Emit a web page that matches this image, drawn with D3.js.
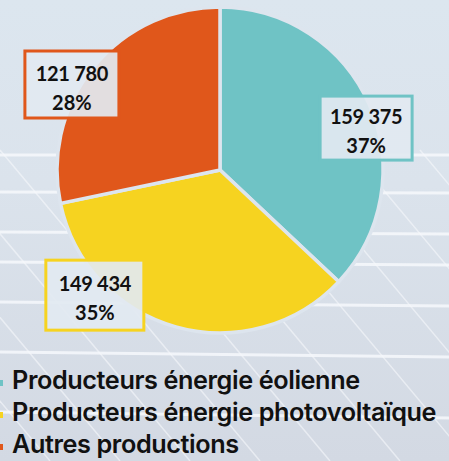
<!DOCTYPE html>
<html>
<head>
<meta charset="utf-8">
<script src="https://cdn.jsdelivr.net/npm/d3@7"></script>
<style>
  html, body { margin: 0; padding: 0; background: #dfe6ee; }
  svg { display: block; }
</style>
</head>
<body>
<svg width="449" height="461"></svg>
<script>
const categories = ["Producteurs énergie éolienne", "Producteurs énergie photovoltaïque", "Autres productions"];
const values = [159375, 149434, 121780];
const valueLabels = ["159 375", "149 434", "121 780"];
const percentLabels = ["37%", "35%", "28%"];
const colors = ["#6fc3c5", "#f6d320", "#e0571b"];

const svg = d3.select("svg");
const width = +svg.attr("width");
const height = +svg.attr("height");

// background: pale sky fading into a solar panel grid
const defs = svg.append("defs");
const grad = defs.append("linearGradient").attr("id", "bg").attr("x1", 0).attr("y1", 0).attr("x2", 0).attr("y2", 1);
grad.append("stop").attr("offset", "0%").attr("stop-color", "#dce6ef");
grad.append("stop").attr("offset", "40%").attr("stop-color", "#dbe3ec");
grad.append("stop").attr("offset", "100%").attr("stop-color", "#d3d9e3");
svg.append("rect").attr("width", width).attr("height", height).attr("fill", "url(#bg)");

const panel = svg.append("g").attr("stroke", "#f6f8fb").attr("fill", "none");
[155, 192, 232, 262, 302, 352, 412].forEach((y, i) => {
  panel.append("line").attr("x1", 0).attr("x2", width).attr("y1", y).attr("y2", y + i)
    .attr("stroke-width", 3).attr("opacity", 0.85);
});
for (let k = -6; k < 10; k++) {
  const x0 = k * 70;
  panel.append("line").attr("x1", x0).attr("y1", 150).attr("x2", x0 + 260).attr("y2", height)
    .attr("stroke-width", 1.5).attr("opacity", 0.6);
}

// pie
const cx = 220, cy = 170, radius = 163;
const g = svg.append("g").attr("transform", `translate(${cx},${cy})`);

const pie = d3.pie().value(d => d).sort(null);
const arc = d3.arc().innerRadius(0).outerRadius(radius);
const arcs = pie(values);

g.selectAll("path.slice")
  .data(arcs)
  .enter()
  .append("path")
  .attr("class", "slice")
  .attr("d", arc)
  .attr("fill", (d, i) => colors[i])
  .attr("stroke", "#dde5ee")
  .attr("stroke-width", 3.5);

// data labels (box placement around each slice)
const labelAngles = [74, 225, 300];
const labelRadii = [152, 177, 171];
const boxSizes = [[92, 64], [98, 70], [94, 67]];

const labels = g.selectAll("g.label")
  .data(arcs)
  .enter()
  .append("g")
  .attr("class", "label")
  .attr("transform", (d, i) => {
    const a = labelAngles[i] * Math.PI / 180;
    return `translate(${labelRadii[i] * Math.sin(a)},${-labelRadii[i] * Math.cos(a)})`;
  });

labels.append("rect")
  .attr("x", (d, i) => -boxSizes[i][0] / 2)
  .attr("y", (d, i) => -boxSizes[i][1] / 2)
  .attr("width", (d, i) => boxSizes[i][0])
  .attr("height", (d, i) => boxSizes[i][1])
  .attr("fill", "#e2e9f1")
  .attr("fill-opacity", 0.92)
  .attr("stroke", (d, i) => colors[i])
  .attr("stroke-width", 3);

labels.append("text")
  .attr("text-anchor", "middle")
  .attr("y", -4)
  .attr("font-family", "Lato, 'Open Sans', sans-serif")
  .attr("font-weight", "bold")
  .attr("font-size", 20)
  .attr("letter-spacing", -0.3)
  .attr("fill", "#111")
  .text((d, i) => valueLabels[i]);

labels.append("text")
  .attr("text-anchor", "middle")
  .attr("y", 25)
  .attr("font-family", "Lato, 'Open Sans', sans-serif")
  .attr("font-weight", "bold")
  .attr("font-size", 20)
  .attr("fill", "#111")
  .text((d, i) => percentLabels[i]);

// legend
const legendY = d3.scaleBand().domain(categories).range([366, 462]);
const legend = svg.selectAll("g.legend")
  .data(categories)
  .enter()
  .append("g")
  .attr("class", "legend")
  .attr("transform", d => `translate(0,${legendY(d)})`);

legend.append("rect")
  .attr("x", -2)
  .attr("y", 14)
  .attr("width", 5)
  .attr("height", 6)
  .attr("fill", (d, i) => colors[i]);

legend.append("text")
  .attr("x", 12)
  .attr("y", 23)
  .attr("font-family", "Inter, 'Noto Sans', sans-serif")
  .attr("font-weight", 600)
  .attr("font-size", 23)
  .attr("letter-spacing", -0.4)
  .attr("fill", "#111")
  .text(d => d);

// fit the widest legend line to the reference width
const longest = legend.select("text").nodes()[1];
const scale = 423 / longest.getComputedTextLength();
legend.select("text").attr("font-size", 23 * scale);
</script>
</body>
</html>
